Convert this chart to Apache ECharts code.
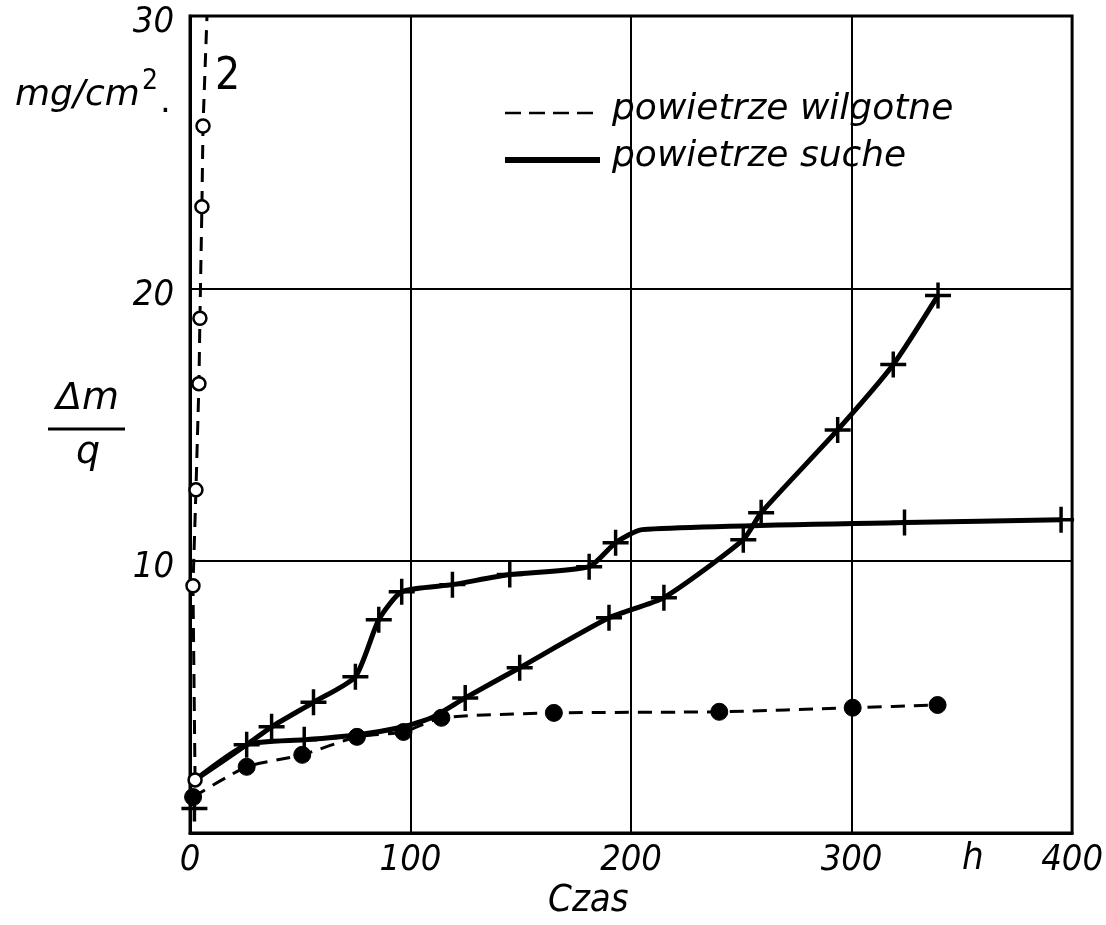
<!DOCTYPE html>
<html>
<head>
<meta charset="utf-8">
<script src="https://cdn.jsdelivr.net/npm/echarts@6/dist/echarts.min.js"></script>
<style>
  html, body { margin: 0; padding: 0; background: #fff; }
  #chart { width: 1106px; height: 925px; }
</style>
</head>
<body>
<div id="chart"></div>
<script>
// Time (h) and Δm/q (mg/cm²) readings
const xTicks = [0, 100, 200, 300, 400];
const yTicks = [10, 20, 30];

// humid air, measured series (filled dots)
const humidAir = [
  [1.4, 1.32], [25.7, 2.43], [50.9, 2.87], [75.7, 3.53], [96.8, 3.71],
  [114, 4.23], [165, 4.41], [240, 4.45], [300.5, 4.6], [339, 4.7]
];
// humid air, curve 2 (open circles) – the last pair is where it leaves the frame
const humidCurve2 = [
  [2.3, 1.95], [1.35, 9.08], [2.7, 12.6], [4.05, 16.5], [4.5, 18.9],
  [5.4, 23.0], [5.9, 25.96], [7.7, 30]
];
// dry air, curve with the plateau near 11.5
const dryPlateau = [
  [2.3, 1.95], [25.7, 3.24], [37, 3.9], [56, 4.8], [75, 5.74],
  [85.6, 7.83], [96, 8.86], [119, 9.12], [145, 9.49], [181, 9.78],
  [193, 10.66], [205, 11.14], [324, 11.4], [395, 11.5]
];
// dry air, curve rising to 20
const dryRising = [
  [2.3, 1.95], [25.7, 3.24], [51.8, 3.42], [75.7, 3.6], [96.8, 3.9],
  [110, 4.25], [124.8, 4.96], [149.5, 6.07], [190, 7.9], [214.9, 8.64],
  [250.9, 10.77], [259, 11.76], [293.7, 14.8], [318.9, 17.2], [339.2, 19.74]
];
// dry air crosses drawn on the curves
const dryPlateauMarks = [
  [25.7, 3.24], [37, 3.9], [56, 4.8], [75, 5.74], [85.6, 7.83], [96, 8.86],
  [119, 9.12], [145, 9.49], [181, 9.78], [193, 10.66], [324, 11.4], [395, 11.5]
];
const dryRisingMarks = [
  [2, 0.9], [51.8, 3.42], [124.8, 4.96], [149.5, 6.07], [190, 7.9], [214.9, 8.64],
  [250.9, 10.77], [259, 11.76], [293.7, 14.8], [318.9, 17.2], [339.2, 19.74]
];

const legendLabels = ['powietrze wilgotne', 'powietrze suche'];

const NARROW = "'DejaVu Sans Condensed', 'DejaVu Sans', sans-serif";
const FONT = "'DejaVu Sans', sans-serif";
const PLUS = 'path://M-1.6,-12 L1.6,-12 L1.6,-1.6 L12,-1.6 L12,1.6 L1.6,1.6 L1.6,12 L-1.6,12 L-1.6,1.6 L-12,1.6 L-12,-1.6 L-1.6,-1.6 Z';

const chart = echarts.init(document.getElementById('chart'), null, { renderer: 'canvas' });

const curve2Data = humidCurve2.map((p, i) =>
  i === humidCurve2.length - 1 ? { value: p, symbol: 'none' } : { value: p });

chart.setOption({
  animation: false,
  backgroundColor: '#fff',
  grid: {
    left: 190, right: 28, top: 16, bottom: 92,
    show: true, borderColor: '#000', borderWidth: 3
  },
  xAxis: {
    type: 'value', min: 0, max: 400, interval: 100,
    axisLine: { show: true, lineStyle: { color: '#000', width: 3 } },
    axisTick: { show: false },
    splitLine: { show: true, lineStyle: { color: '#000', width: 2 } },
    axisLabel: {
      margin: 10, color: '#000', fontSize: 36, fontStyle: 'italic', fontFamily: NARROW,
      formatter: v => (xTicks.includes(v) ? String(v) : '')
    }
  },
  yAxis: {
    type: 'value', min: 0, max: 30, interval: 10,
    axisLine: { show: true, lineStyle: { color: '#000', width: 3 } },
    axisTick: { show: false },
    splitLine: { show: true, lineStyle: { color: '#000', width: 2 } },
    axisLabel: {
      margin: 16, color: '#000',
      formatter: v => (yTicks.includes(v) ? '{t|' + v + '}' : ''),
      rich: {
        t: { fontSize: 36, fontStyle: 'italic', fontFamily: NARROW, color: '#000', padding: [14, 0, 0, 0] }
      }
    }
  },
  series: [
    {
      name: legendLabels[0], type: 'line', data: humidAir,
      smooth: 0.2,
      lineStyle: { color: '#000', width: 3, type: [14, 9] },
      symbol: 'circle', symbolSize: 17,
      itemStyle: { color: '#000', borderColor: '#000' }, z: 3
    },
    {
      name: legendLabels[0] + ' 2', type: 'line', data: curve2Data,
      lineStyle: { color: '#000', width: 3, type: [14, 9] },
      symbol: 'circle', symbolSize: 13,
      itemStyle: { color: '#fff', borderColor: '#000', borderWidth: 2.5 }, z: 4
    },
    {
      name: legendLabels[1], type: 'line', data: dryPlateau,
      smooth: 0.2,
      lineStyle: { color: '#000', width: 5 }, showSymbol: false, symbol: 'none', z: 3
    },
    {
      name: legendLabels[1] + ' b', type: 'line', data: dryRising,
      smooth: 0.2,
      lineStyle: { color: '#000', width: 5 }, showSymbol: false, symbol: 'none', z: 3
    },
    {
      type: 'scatter', data: dryPlateauMarks.concat(dryRisingMarks),
      symbol: PLUS, symbolSize: 26,
      itemStyle: { color: '#000', opacity: 1 }, z: 5
    }
  ],
  graphic: [
    // legend
    { type: 'line', shape: { x1: 505, y1: 113, x2: 600, y2: 113 },
      style: { stroke: '#000', lineWidth: 2.5, lineDash: [16, 8] } },
    { type: 'text', left: 612, top: 92,
      style: { text: legendLabels[0], fontSize: 36, fontStyle: 'italic', fontFamily: FONT, fill: '#000' } },
    { type: 'line', shape: { x1: 505, y1: 160, x2: 600, y2: 160 },
      style: { stroke: '#000', lineWidth: 6 } },
    { type: 'text', left: 612, top: 139,
      style: { text: legendLabels[1], fontSize: 36, fontStyle: 'italic', fontFamily: FONT, fill: '#000' } },
    // curve number
    { type: 'text', left: 215, top: 56,
      style: { text: '2', fontSize: 44, fontFamily: NARROW, fill: '#000' } },
    // unit
    { type: 'text', left: 15, top: 78,
      style: { text: 'mg/cm', fontSize: 36, fontStyle: 'italic', fontFamily: FONT, fill: '#000' } },
    { type: 'text', left: 142, top: 68,
      style: { text: '2', fontSize: 28, fontFamily: NARROW, fill: '#000' } },
    { type: 'text', left: 160, top: 86,
      style: { text: '.', fontSize: 34, fontFamily: FONT, fill: '#000' } },
    // quantity Δm / q
    { type: 'text', left: 56, top: 380,
      style: { text: 'Δm', fontSize: 38, fontStyle: 'italic', fontFamily: FONT, fill: '#000' } },
    { type: 'line', shape: { x1: 48, y1: 429, x2: 125, y2: 429 },
      style: { stroke: '#000', lineWidth: 3 } },
    { type: 'text', left: 76, top: 434,
      style: { text: 'q', fontSize: 38, fontStyle: 'italic', fontFamily: FONT, fill: '#000' } },
    // axis units
    { type: 'text', left: 962, top: 840,
      style: { text: 'h', fontSize: 38, fontStyle: 'italic', fontFamily: NARROW, fill: '#000' } },
    { type: 'text', left: 548, top: 882,
      style: { text: 'Czas', fontSize: 38, fontStyle: 'italic', fontFamily: NARROW, fill: '#000' } }
  ]
});
</script>
</body>
</html>
